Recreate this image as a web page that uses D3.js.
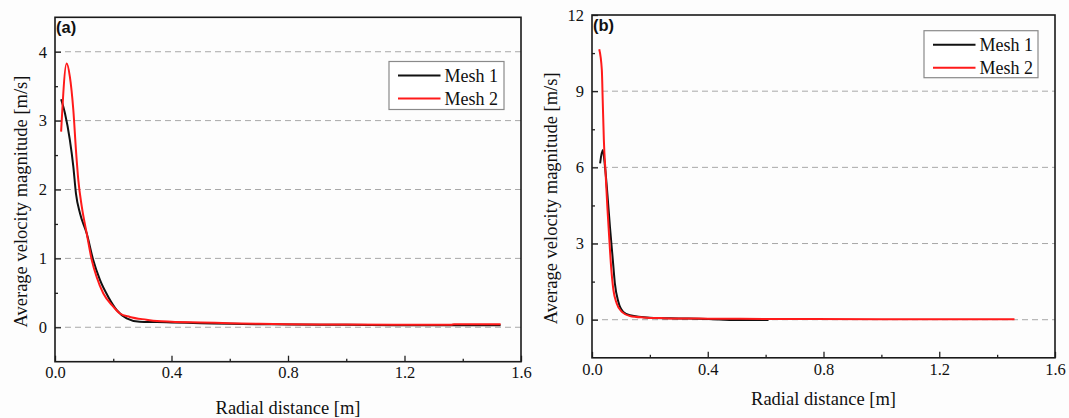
<!DOCTYPE html>
<html>
<head>
<meta charset="utf-8">
<script src="https://cdnjs.cloudflare.com/ajax/libs/d3/7.8.5/d3.min.js"></script>
<style>
  body { margin: 0; background: #fdfdfd; }
  svg { display: block; }
  text { fill: #111; }
</style>
</head>
<body>
<svg id="chart" width="1069" height="418"></svg>
<script>
// ---- data ----
const seriesNames = ['Mesh 1', 'Mesh 2'];
const xLabel = 'Radial distance [m]';
const yLabel = 'Average velocity magnitude [m/s]';

const xMajorTicks = [0, 0.4, 0.8, 1.2, 1.6];
const xMinorTicks = [0.2, 0.6, 1.0, 1.4];

// panel (a)
const yMajorTicksA = [0, 1, 2, 3, 4];
const yMinorTicksA = [0.5, 1.5, 2.5, 3.5];
const mesh1XA = [0.021, 0.034, 0.051, 0.063, 0.072, 0.086, 0.109, 0.131, 0.154, 0.183, 0.212, 0.246, 0.291, 0.35, 0.4, 0.5, 0.6, 0.8, 1.0, 1.2, 1.4, 1.53];
const mesh1YA = [3.31, 3.11, 2.72, 2.33, 1.94, 1.65, 1.36, 0.98, 0.69, 0.44, 0.25, 0.13, 0.08, 0.075, 0.07, 0.06, 0.05, 0.04, 0.035, 0.03, 0.03, 0.03];
const mesh2XA = [0.021, 0.040, 0.051, 0.063, 0.072, 0.080, 0.092, 0.109, 0.126, 0.143, 0.166, 0.200, 0.223, 0.257, 0.314, 0.35, 0.4, 0.5, 0.6, 0.7, 0.8, 1.0, 1.2, 1.36, 1.37, 1.53];
const mesh2YA = [2.84, 3.83, 3.64, 3.15, 2.57, 2.14, 1.75, 1.36, 0.98, 0.73, 0.49, 0.30, 0.20, 0.15, 0.11, 0.09, 0.08, 0.07, 0.06, 0.05, 0.045, 0.04, 0.035, 0.035, 0.045, 0.045];

// panel (b)
const yMajorTicksB = [0, 3, 6, 9, 12];
const yMinorTicksB = [1.5, 4.5, 7.5, 10.5];
const mesh1XB = [0.028, 0.037, 0.045, 0.053, 0.062, 0.072, 0.079, 0.091, 0.108, 0.131, 0.2, 0.3, 0.4, 0.5, 0.61];
const mesh1YB = [6.16, 6.68, 6.02, 4.98, 3.66, 2.35, 1.43, 0.71, 0.31, 0.18, 0.08, 0.05, 0.03, -0.01, -0.01];
const mesh2XB = [0.025, 0.034, 0.037, 0.041, 0.047, 0.053, 0.060, 0.066, 0.074, 0.085, 0.103, 0.131, 0.177, 0.25, 0.4, 0.6, 1.0, 1.46];
const mesh2YB = [10.65, 9.83, 8.65, 7.07, 5.76, 4.45, 3.14, 2.09, 1.17, 0.65, 0.31, 0.15, 0.09, 0.06, 0.04, 0.03, 0.02, 0.02];

const colors = ['#111111', '#ff1a1a'];
const SERIF = '"Liberation Serif", "Times New Roman", serif';
const SANS = '"Liberation Sans", Arial, sans-serif';

// ---- layout ----
const panels = [
  {
    tag: '(a)', left: 55, right: 521, top: 17.3, bottom: 361.7,
    yDomain: [-0.5, 4.5], yMajor: yMajorTicksA, yMinor: yMinorTicksA,
    series: [[mesh1XA, mesh1YA], [mesh2XA, mesh2YA]],
    xTitleY: 414, yTitleX: 21, legend: { x: 389, y: 61.5, w: 115, h: 48 }
  },
  {
    tag: '(b)', left: 592, right: 1055, top: 15, bottom: 357.8,
    yDomain: [-1.5, 12], yMajor: yMajorTicksB, yMinor: yMinorTicksB,
    series: [[mesh1XB, mesh1YB], [mesh2XB, mesh2YB]],
    xTitleY: 405, yTitleX: 550.5, legend: { x: 924, y: 30.7, w: 114, h: 47 }
  }
];

const svg = d3.select('#chart');

function drawPanel(p) {
  const x = d3.scaleLinear().domain([0, 1.6]).range([p.left, p.right]);
  const y = d3.scaleLinear().domain(p.yDomain).range([p.bottom, p.top]);
  const g = svg.append('g');

  // dashed grid at major y ticks (not on the frame)
  g.selectAll('line.grid')
    .data(p.yMajor.filter(v => v > p.yDomain[0] && v < p.yDomain[1]))
    .join('line')
    .attr('class', 'grid')
    .attr('x1', p.left).attr('x2', p.right)
    .attr('y1', d => y(d)).attr('y2', d => y(d))
    .attr('stroke', '#a8a8a8').attr('stroke-width', 1)
    .attr('stroke-dasharray', '6,4');

  // x axis, ticks pointing inward
  g.append('g')
    .attr('transform', `translate(0,${p.bottom})`)
    .call(d3.axisBottom(x).tickValues(xMajorTicks).tickFormat(d3.format('.1f'))
      .tickSizeInner(-6).tickSizeOuter(0).tickPadding(5));
  g.append('g')
    .attr('transform', `translate(0,${p.bottom})`)
    .call(d3.axisBottom(x).tickValues(xMinorTicks).tickFormat('')
      .tickSizeInner(-3).tickSizeOuter(0));

  // y axis
  g.append('g')
    .attr('transform', `translate(${p.left},0)`)
    .call(d3.axisLeft(y).tickValues(p.yMajor).tickFormat(d3.format('d'))
      .tickSizeInner(-6).tickSizeOuter(0).tickPadding(8));
  g.append('g')
    .attr('transform', `translate(${p.left},0)`)
    .call(d3.axisLeft(y).tickValues(p.yMinor).tickFormat('')
      .tickSizeInner(-3).tickSizeOuter(0));

  g.selectAll('.domain').remove();
  g.selectAll('.tick line').attr('stroke', '#222').attr('stroke-width', 1.3);
  g.selectAll('.tick text')
    .style('font-family', SERIF)
    .style('font-size', '16.5px').attr('fill', '#111');

  // frame
  g.append('rect')
    .attr('x', p.left).attr('y', p.top)
    .attr('width', p.right - p.left).attr('height', p.bottom - p.top)
    .attr('fill', 'none').attr('stroke', '#1a1a1a').attr('stroke-width', 1.6);

  // series lines
  const line = d3.line()
    .x(d => x(d[0]))
    .y(d => y(d[1]))
    .curve(d3.curveMonotoneX);

  p.series.forEach((s, i) => {
    const pts = s[0].map((xv, k) => [xv, s[1][k]]);
    g.append('path')
      .attr('d', line(pts))
      .attr('fill', 'none')
      .attr('stroke', colors[i])
      .attr('stroke-width', 2)
      .attr('stroke-linejoin', 'round');
  });

  // panel tag
  g.append('text')
    .attr('x', p.left + 1).attr('y', p.top + 15.5)
    .style('font-family', SANS)
    .style('font-weight', 'bold').style('font-size', '16.5px')
    .text(p.tag);

  // axis titles
  g.append('text')
    .attr('x', (p.left + p.right) / 2).attr('y', p.xTitleY)
    .attr('text-anchor', 'middle')
    .style('font-family', SERIF).style('font-size', '18.5px')
    .text(xLabel);
  g.append('text')
    .attr('transform', `translate(${p.yTitleX},${(p.top + p.bottom) / 2 + 12}) rotate(-90)`)
    .attr('text-anchor', 'middle').attr('dy', '0.35em')
    .style('font-family', SERIF).style('font-size', '18.5px')
    .text(yLabel);

  // legend
  const L = p.legend;
  const lg = g.append('g');
  lg.append('rect')
    .attr('x', L.x).attr('y', L.y).attr('width', L.w).attr('height', L.h)
    .attr('fill', '#fff').attr('stroke', '#8a8a8a').attr('stroke-width', 1.2);
  seriesNames.forEach((name, i) => {
    const ly = L.y + 14 + i * 23;
    lg.append('line')
      .attr('x1', L.x + 9).attr('x2', L.x + 51.5)
      .attr('y1', ly).attr('y2', ly)
      .attr('stroke', colors[i]).attr('stroke-width', 2);
    lg.append('text')
      .attr('x', L.x + 55.5).attr('y', ly + 6)
      .style('font-family', SERIF).style('font-size', '18px')
      .text(name);
  });
}

panels.forEach(drawPanel);
</script>
</body>
</html>
